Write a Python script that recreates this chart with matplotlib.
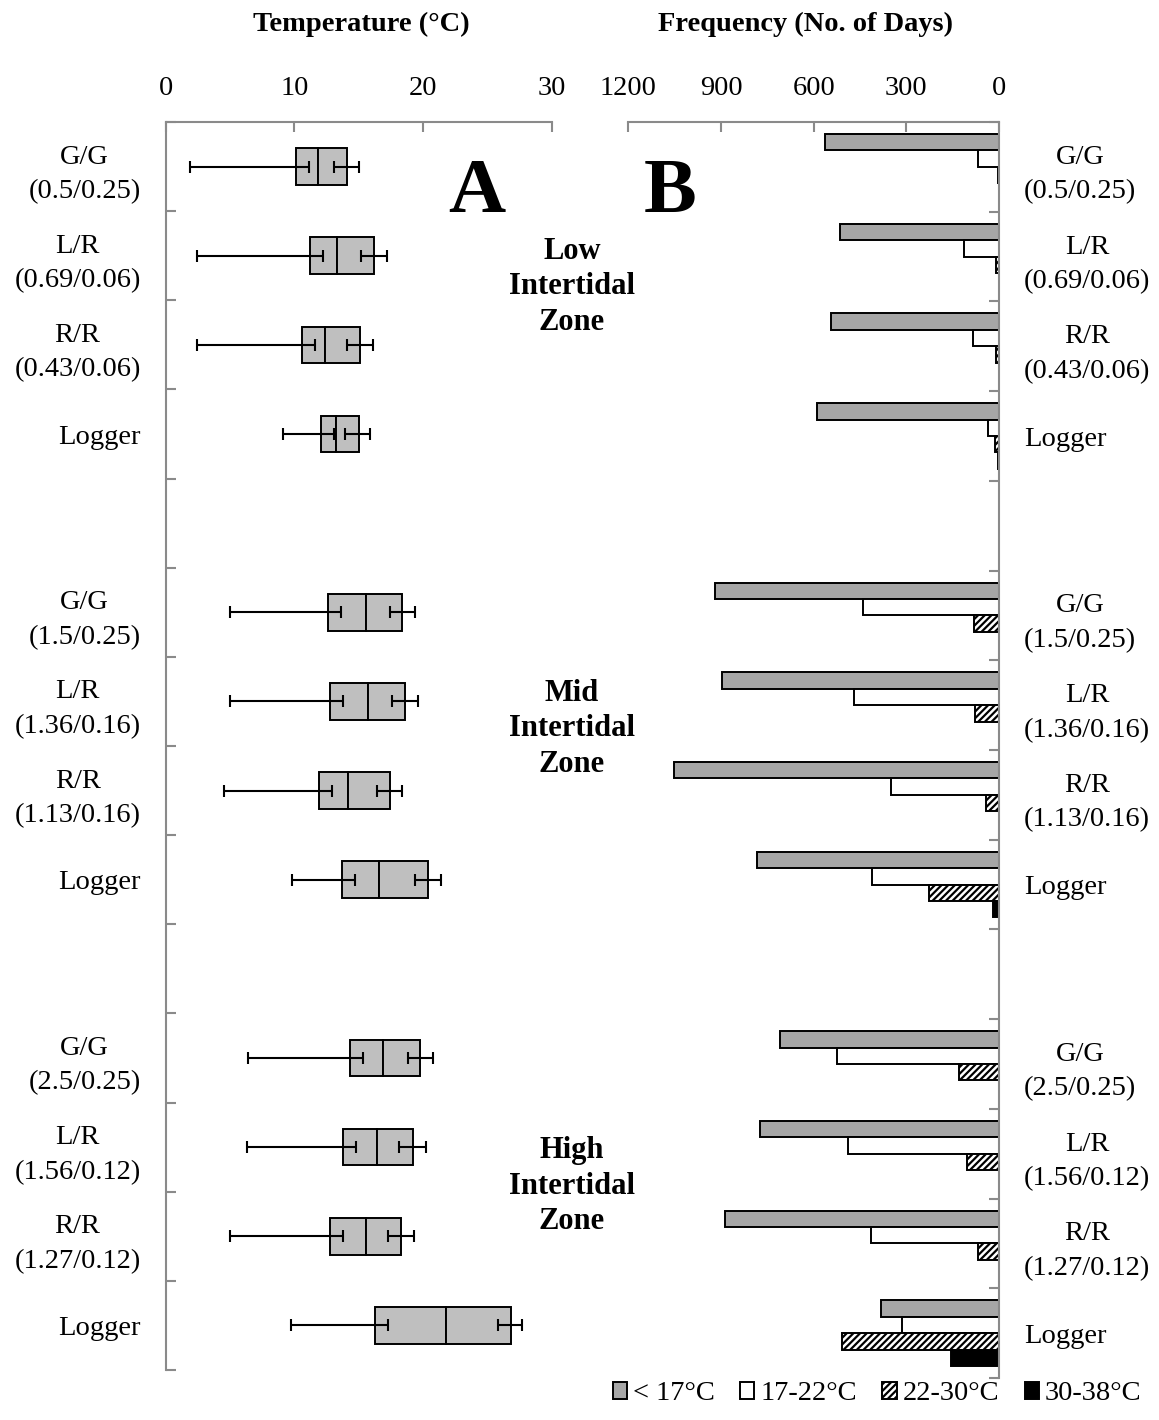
import numpy as np
import matplotlib.pyplot as plt

plt.rcParams['font.family'] = ['Liberation Serif', 'DejaVu Serif']
plt.rcParams['hatch.linewidth'] = 1.6

W, H = 1159, 1420
FS = 20.5
SPINE = '#8a8a8a'

# category rows (slots 4 and 9 are left empty between the zones)
rows = [0, 1, 2, 3, 5, 6, 7, 8, 10, 11, 12, 13]
labels = ["G/G\n(0.5/0.25)", "L/R\n(0.69/0.06)", "R/R\n(0.43/0.06)", "Logger",
          "G/G\n(1.5/0.25)", "L/R\n(1.36/0.16)", "R/R\n(1.13/0.16)", "Logger",
          "G/G\n(2.5/0.25)", "L/R\n(1.56/0.12)", "R/R\n(1.27/0.12)", "Logger"]
zones = ["Low\nIntertidal\nZone", "Mid\nIntertidal\nZone", "High\nIntertidal\nZone"]

# temperature summaries (deg C)
t_min = [1.9, 2.4, 2.4, 9.1, 5.0, 5.0, 4.5, 9.8, 6.4, 6.3, 5.0, 9.7]
t_lo = [11.1, 12.2, 11.6, 13.05, 13.6, 13.8, 12.9, 14.7, 15.3, 14.8, 13.8, 17.3]
t_q1 = [10.1, 11.2, 10.6, 12.1, 12.6, 12.8, 11.9, 13.7, 14.3, 13.8, 12.8, 16.3]
t_med = [11.8, 13.3, 12.4, 13.2, 15.6, 15.7, 14.2, 16.6, 16.9, 16.4, 15.6, 21.8]
t_q3 = [14.1, 16.2, 15.1, 15.0, 18.4, 18.6, 17.4, 20.4, 19.8, 19.2, 18.3, 26.8]
t_hi = [13.05, 15.2, 14.1, 13.9, 17.4, 17.6, 16.4, 19.4, 18.8, 18.1, 17.3, 25.8]
t_max = [15.0, 17.2, 16.1, 15.9, 19.4, 19.6, 18.4, 21.4, 20.8, 20.2, 19.3, 27.7]

# number of days in each temperature class
bins = ['< 17°C', '17-22°C', '22-30°C', '30-38°C']
days_lt17 = [563, 515, 545, 588, 919, 896, 1051, 783, 709, 773, 886, 383]
days_17_22 = [67, 112, 83, 37, 441, 468, 351, 412, 525, 489, 413, 314]
days_22_30 = [3, 10, 10, 12, 81, 77, 42, 227, 128, 103, 68, 507]
days_30_38 = [0, 1, 1, 2, 1, 1, 1, 20, 1, 1, 1, 156]

y = np.array(rows, dtype=float)
t_min, t_lo, t_q1, t_med, t_q3, t_hi, t_max = map(
    np.array, (t_min, t_lo, t_q1, t_med, t_q3, t_hi, t_max))
zeros = np.zeros(len(rows))

fig = plt.figure(figsize=(W / 100, H / 100), dpi=100)
ax_a = fig.add_axes([165.7 / W, 1 - 1370 / H, 386 / W, 1248 / H])
ax_b = fig.add_axes([628.3 / W, 1 - 1378 / H, 370.7 / W, 1256 / H])


def style_axes(ax, side):
    for s in ax.spines.values():
        s.set_visible(False)
    for s in ('top', side):
        ax.spines[s].set_visible(True)
        ax.spines[s].set_color(SPINE)
        ax.spines[s].set_linewidth(1.5)
    ax.set_ylim(13.5, -0.5)
    ax.set_yticks(np.arange(-0.5, 14, 1))
    ax.set_yticks(rows, labels=labels, minor=True)
    ax.xaxis.tick_top()
    ax.tick_params(axis='x', direction='in', length=7, width=1.5, color=SPINE,
                   pad=15, labelsize=FS)
    on_left = side == 'left'
    ax.tick_params(axis='y', which='major', direction='in', length=7, width=1.5,
                   color=SPINE, left=on_left, right=not on_left,
                   labelleft=False, labelright=False)
    ax.tick_params(axis='y', which='minor', length=0, pad=18, labelsize=FS,
                   left=False, right=False,
                   labelleft=on_left, labelright=not on_left)
    for t in ax.get_yticklabels(minor=True):
        t.set_multialignment('center')
        t.set_linespacing(1.5)


# A: boxes split at the median, whiskers drawn as capped error bars
style_axes(ax_a, 'left')
ax_a.set_xlim(0, 30)
ax_a.set_xticks([0, 10, 20, 30])
box = dict(height=0.41, color='#bfbfbf', edgecolor='black', linewidth=1.4)
ax_a.barh(y, t_med - t_q1, left=t_q1, **box)
ax_a.barh(y, t_q3 - t_med, left=t_med, **box)
err = dict(fmt='none', ecolor='black', elinewidth=1.5, capsize=4.3, capthick=1.5)
ax_a.errorbar(t_lo, y, xerr=[t_lo - t_min, zeros], **err)
ax_a.errorbar(t_hi, y, xerr=[zeros, t_max - t_hi], **err)

# B: four frequency classes per site, counted leftwards from zero
style_axes(ax_b, 'right')
ax_b.set_xlim(1200, 0)
ax_b.set_xticks([1200, 900, 600, 300, 0])
h = 0.183
series = [
    (days_lt17, dict(color='#a6a6a6')),
    (days_17_22, dict(color='white')),
    (days_22_30, dict(color='white', hatch='/////')),
    (days_30_38, dict(color='black')),
]
handles = []
for k, (vals, st) in enumerate(series):
    bars = ax_b.barh(y + (k - 1.5) * h, vals, height=h, edgecolor='black',
                     linewidth=1.4, **st)
    handles.append(bars)

fig.text(361 / W, 1 - 24 / H, 'Temperature (°C)', ha='center', va='center',
         fontsize=FS, weight='bold')
fig.text(806 / W, 1 - 24 / H, 'Frequency (No. of Days)', ha='center', va='center',
         fontsize=FS, weight='bold')
fig.text(477 / W, 1 - 212 / H, 'A', ha='center', va='baseline', fontsize=57,
         weight='bold')
fig.text(670 / W, 1 - 212 / H, 'B', ha='center', va='baseline', fontsize=57,
         weight='bold')
for zone, yc in zip(zones, [287, 729, 1186]):
    fig.text(572 / W, 1 - yc / H, zone, ha='center', va='center', fontsize=22,
             weight='bold', linespacing=1.3)

fig.legend(handles, bins, ncol=4, frameon=False, loc='center',
           bbox_to_anchor=(877 / W, 1 - 1394 / H), fontsize=FS,
           handlelength=0.5, handleheight=0.5, handletextpad=0.2,
           columnspacing=0.9, borderpad=0)

fig.savefig('out.png', dpi=100)
